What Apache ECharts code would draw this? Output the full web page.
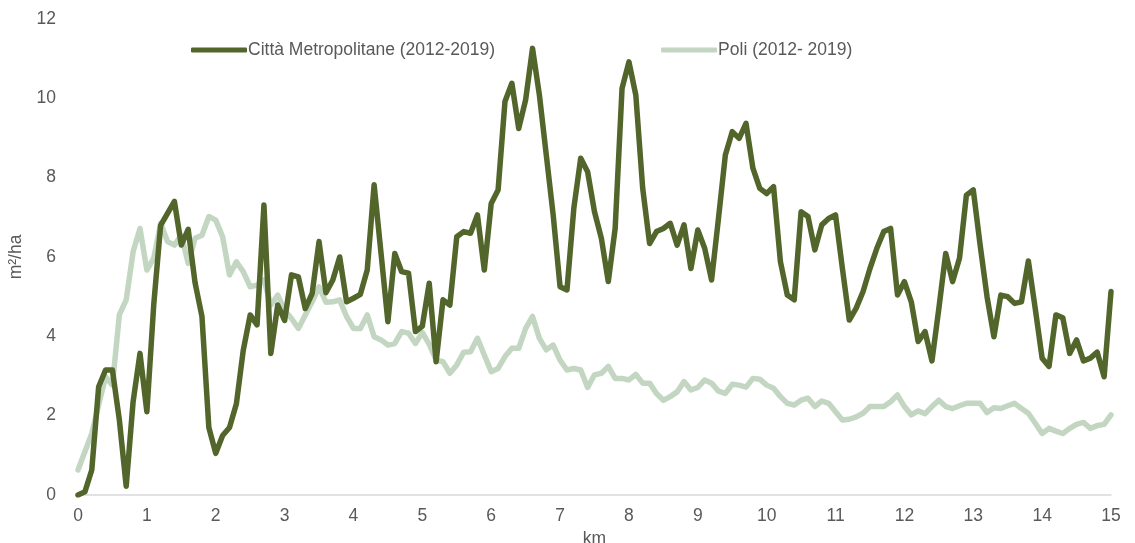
<!DOCTYPE html>
<html>
<head>
<meta charset="utf-8">
<script src="https://cdn.jsdelivr.net/npm/echarts@6/dist/echarts.min.js"></script>
<style>html,body{margin:0;padding:0;background:#fff}#c{width:1135px;height:543px}</style>
</head>
<body>
<div id="c"></div>
<script>
// distance from centre, km (0.1 km steps)
const km = Array.from({length: 151}, (_, i) => (i / 10).toFixed(1));
const seriesNames = ['Città Metropolitane (2012-2019)', 'Poli (2012- 2019)'];
const cittaMetropolitane = [
 0, 0.08, 0.63, 2.73, 3.15, 3.15, 1.9, 0.22, 2.35, 3.57,
 2.1, 4.8, 6.8, 7.1, 7.4, 6.3, 6.7, 5.35, 4.5, 1.7,
 1.05, 1.5, 1.7, 2.3, 3.65, 4.54, 4.29, 7.31, 3.57, 4.79,
 4.4, 5.55, 5.5, 4.7, 5.08, 6.39, 5.1, 5.42, 6.0, 4.87,
 4.96, 5.06, 5.67, 7.82, 6.1, 4.37, 6.09, 5.63, 5.59, 4.12,
 4.26, 5.34, 3.36, 4.92, 4.79, 6.51, 6.64, 6.6, 7.06, 5.67,
 7.35, 7.69, 9.92, 10.38, 9.24, 9.96, 11.26, 10.08, 8.57, 7.06,
 5.25, 5.17, 7.23, 8.49, 8.15, 7.14, 6.47, 5.38, 6.72, 10.25,
 10.92, 10.08, 7.73, 6.34, 6.64, 6.72, 6.85, 6.3, 6.81, 5.71,
 6.68, 6.22, 5.42, 6.97, 8.57, 9.16, 8.99, 9.37, 8.24, 7.73,
 7.6, 7.77, 5.88, 5.04, 4.92, 7.14, 7.02, 6.18, 6.81, 6.97,
 7.06, 5.71, 4.41, 4.71, 5.13, 5.71, 6.22, 6.64, 6.72, 5.04,
 5.38, 4.87, 3.87, 4.12, 3.38, 4.7, 6.09, 5.38, 5.97, 7.56,
 7.69, 6.3, 5.0, 3.99, 5.04, 5.0, 4.83, 4.87, 5.9, 4.7,
 3.45, 3.24, 4.54, 4.47, 3.57, 3.91, 3.38, 3.45, 3.6, 2.98,
 5.13
];
const poli = [
 0.63, 1.09, 1.55, 2.27, 2.98, 2.77, 4.54, 4.92, 6.13, 6.72,
 5.67, 5.97, 6.85, 6.39, 6.3, 6.55, 5.84, 6.47, 6.55, 7.02,
 6.93, 6.51, 5.55, 5.88, 5.63, 5.25, 5.29, 5.42, 4.79, 5.04,
 4.66, 4.45, 4.2, 4.54, 4.87, 5.25, 4.86, 4.87, 4.92, 4.5,
 4.2, 4.2, 4.54, 3.99, 3.91, 3.78, 3.82, 4.12, 4.08, 3.82,
 4.1, 3.8, 3.4, 3.36, 3.07, 3.28, 3.6, 3.61, 3.95, 3.53,
 3.11, 3.19, 3.49, 3.7, 3.7, 4.2, 4.5, 3.95, 3.66, 3.78,
 3.4, 3.15, 3.19, 3.15, 2.71, 3.03, 3.07, 3.24, 2.94, 2.94,
 2.9, 3.04, 2.82, 2.82, 2.56, 2.39, 2.48, 2.6, 2.86, 2.65,
 2.71, 2.9, 2.82, 2.62, 2.56, 2.79, 2.77, 2.72, 2.94, 2.92,
 2.77, 2.69, 2.48, 2.31, 2.27, 2.39, 2.44, 2.23, 2.37, 2.31,
 2.1, 1.89, 1.91, 1.97, 2.06, 2.23, 2.23, 2.23, 2.35, 2.52,
 2.23, 2.02, 2.12, 2.05, 2.23, 2.39, 2.23, 2.18, 2.25, 2.31,
 2.31, 2.31, 2.08, 2.2, 2.18, 2.25, 2.31, 2.18, 2.06, 1.81,
 1.55, 1.68, 1.61, 1.55, 1.68, 1.78, 1.83, 1.68, 1.75, 1.78,
 2.02
];
const xName = 'km';
const yName = 'm²/ha';

const font = '"Liberation Sans", Arial, sans-serif';
const fs = 17.5;
const chart = echarts.init(document.getElementById('c'), null, {renderer: 'canvas'});
chart.setOption({
  animation: false,
  backgroundColor: '#ffffff',
  grid: {left: 78, right: 24, top: 19, bottom: 48, containLabel: false, outerBoundsMode: 'none'},
  legend: {
    left: 186, top: 36,
    itemWidth: 56, itemHeight: 5, itemGap: 166,
    icon: 'roundRect',
    textStyle: {fontFamily: font, fontSize: fs, color: '#595959', padding: [0, 0, 0, -4]},
    data: seriesNames
  },
  xAxis: {
    type: 'category',
    data: km,
    boundaryGap: false,
    name: xName,
    nameLocation: 'middle',
    nameGap: 32,
    nameTextStyle: {fontFamily: font, fontSize: fs, color: '#595959'},
    axisLine: {lineStyle: {color: '#d9d9d9', width: 1.5}},
    axisTick: {show: false},
    axisLabel: {
      interval: 9,
      margin: 12,
      fontFamily: font, fontSize: fs, color: '#595959',
      formatter: v => String(Math.round(parseFloat(v)))
    },
    splitLine: {show: false}
  },
  yAxis: {
    type: 'value',
    min: 0, max: 12, interval: 2,
    name: yName,
    nameLocation: 'middle',
    nameGap: 52,
    nameTextStyle: {fontFamily: font, fontSize: fs, color: '#595959'},
    axisLine: {show: false},
    axisTick: {show: false},
    axisLabel: {margin: 22, fontFamily: font, fontSize: fs, color: '#595959'},
    splitLine: {show: false}
  },
  series: [
    {
      name: seriesNames[1], type: 'line', data: poli,
      showSymbol: false, symbol: 'none',
      lineStyle: {color: '#c3d6c1', width: 5.5, cap: 'round', join: 'round'},
      itemStyle: {color: '#c3d6c1'},
      z: 2
    },
    {
      name: seriesNames[0], type: 'line', data: cittaMetropolitane,
      showSymbol: false, symbol: 'none',
      lineStyle: {color: '#52652a', width: 5.5, cap: 'round', join: 'round'},
      itemStyle: {color: '#52652a'},
      z: 3
    }
  ]
});
</script>
</body>
</html>
